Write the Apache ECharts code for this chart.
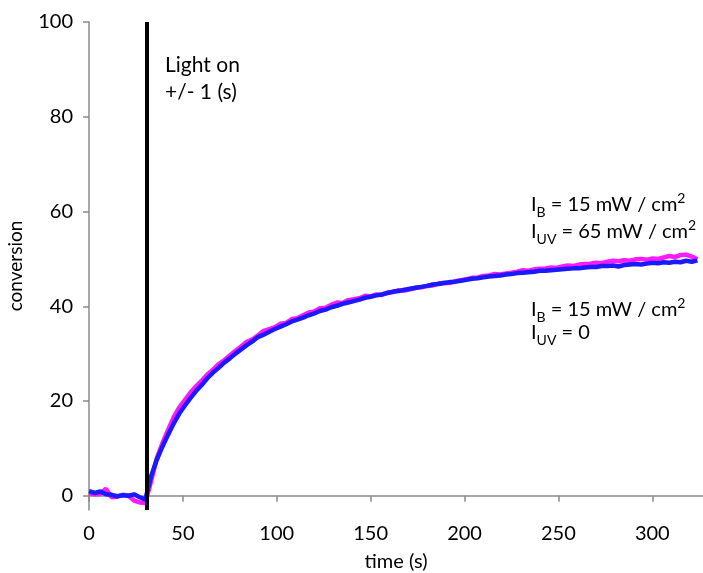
<!DOCTYPE html>
<html>
<head>
<meta charset="utf-8">
<script src="https://cdn.jsdelivr.net/npm/echarts@6/dist/echarts.min.js"></script>
<style>html,body{margin:0;padding:0;background:#fff}#c{width:703px;height:573px}</style>
</head>
<body>
<div id="c"></div>
<script>
var times = [0,3,6,9,12,15,18,21,24,27,30,33,36,39,42,45,48,51,54,57,60,63,66,69,72,75,78,81,84,87,90,93,96,99,102,105,108,111,114,117,120,123,126,129,132,135,138,141,144,147,150,153,156,159,162,165,168,171,174,177,180,183,186,189,192,195,198,201,204,207,210,213,216,219,222,225,228,231,234,237,240,243,246,249,252,255,258,261,264,267,270,273,276,279,282,285,288,291,294,297,300,303,306,309,312,315,318,321,324];
var uvOn = [0.5,0.3,0.4,1.5,-0.3,-0.2,0.2,0.0,-1.0,-1.4,-1.5,3.0,7.8,11.0,13.8,16.5,18.6,20.2,21.8,23.1,24.3,25.6,26.6,27.8,28.6,29.6,30.6,31.5,32.5,33.0,33.9,34.8,35.2,35.6,36.3,36.5,37.3,37.5,38.1,38.7,38.9,39.6,39.7,40.3,40.8,40.7,41.3,41.5,41.7,42.2,42.1,42.5,42.4,42.9,43.0,43.4,43.3,43.6,43.9,44.0,44.3,44.4,44.8,44.9,44.9,45.3,45.5,45.7,46.0,46.1,46.4,46.5,46.8,46.7,46.9,47.1,47.3,47.6,47.5,47.8,47.9,48.0,48.2,48.1,48.4,48.6,48.5,48.8,48.9,49.0,49.2,49.1,49.4,49.6,49.5,49.7,49.6,49.9,50.0,49.8,50.1,50.0,50.3,50.6,50.4,50.8,50.9,50.5,49.9];
var uvOff = [1.0,0.6,0.9,0.3,0.2,-0.1,0.1,0.0,0.3,-0.3,-0.8,4.0,7.5,10.3,12.8,15.2,17.3,19.0,20.6,22.1,23.4,24.8,26.0,27.0,28.1,29.0,30.0,30.9,31.8,32.6,33.5,34.0,34.6,35.2,35.7,36.2,36.8,37.2,37.6,38.1,38.5,39.0,39.3,39.8,40.1,40.5,40.8,41.1,41.4,41.8,42.0,42.3,42.5,42.8,43.1,43.2,43.5,43.7,43.9,44.1,44.3,44.6,44.7,44.9,45.1,45.2,45.4,45.6,45.8,45.9,46.1,46.3,46.4,46.5,46.7,46.8,47.0,47.1,47.2,47.3,47.5,47.5,47.6,47.7,47.8,47.9,48.0,48.0,48.2,48.3,48.3,48.5,48.5,48.6,48.4,48.7,48.8,48.9,48.8,49.0,49.2,49.1,49.3,49.2,49.4,49.3,49.6,49.4,49.7];
var yTicks = [0,20,40,60,80,100];
var lightOnTime = 30.5;

function pairs(xs, ys){ return xs.map(function(x,i){ return [x, ys[i]]; }); }

var FONT = 'Lato';
var chart = echarts.init(document.getElementById('c'));
var richStyle = {
  m:{fontSize:20,fontFamily:FONT,fill:'#000',lineHeight:28,verticalAlign:'middle'},
  s:{fontSize:14,fontFamily:FONT,fill:'#000',lineHeight:28,verticalAlign:'bottom'},
  p:{fontSize:14,fontFamily:FONT,fill:'#000',lineHeight:28,verticalAlign:'top'}
};
chart.setOption({
  animation:false,
  grid:{left:89,right:0,top:22,bottom:63,containLabel:false,outerBoundsMode:'none'},
  xAxis:{
    type:'value',min:0,max:327,interval:50,
    name:'time (s)',nameLocation:'middle',nameGap:42,
    nameTextStyle:{fontSize:20,fontFamily:FONT,color:'#000'},
    axisLine:{lineStyle:{color:'#8a8a8a',width:1.5}},
    axisTick:{show:true,length:6,lineStyle:{color:'#8a8a8a',width:1.5}},
    axisLabel:{fontSize:20,fontFamily:FONT,color:'#000',margin:14,showMaxLabel:false},
    splitLine:{show:false}
  },
  yAxis:{
    type:'value',min:-3,max:100,
    name:'conversion',nameLocation:'middle',nameGap:64,
    nameTextStyle:{fontSize:19,fontFamily:FONT,color:'#000'},
    axisLine:{show:true,lineStyle:{color:'#8a8a8a',width:1.5}},
    axisTick:{show:true,length:6,customValues:yTicks,lineStyle:{color:'#8a8a8a',width:1.5}},
    axisLabel:{fontSize:20,fontFamily:FONT,color:'#000',margin:16,customValues:yTicks},
    splitLine:{show:false}
  },
  series:[
    {type:'line',data:pairs(times,uvOn),symbol:'none',lineStyle:{color:'#ff19ff',width:4.5},z:2,
     markLine:{silent:true,symbol:'none',label:{show:false},lineStyle:{color:'#000',width:4,type:'solid'},data:[{xAxis:lightOnTime}]}},
    {type:'line',data:pairs(times,uvOff),symbol:'none',lineStyle:{color:'#1a1aff',width:4.5},z:3}
  ],
  graphic:[
    {type:'text',left:165,top:55,style:{text:'Light on',fontSize:21,fontFamily:FONT,fill:'#000'}},
    {type:'text',left:165,top:82,style:{text:'+/- 1 (s)',fontSize:21,fontFamily:FONT,fill:'#000'}},
    {type:'text',left:531,top:191,style:{text:'{m|I}{s|B}{m| = 15 mW / cm}{p|2}',rich:richStyle}},
    {type:'text',left:531,top:218,style:{text:'{m|I}{s|UV}{m| = 65 mW / cm}{p|2}',rich:richStyle}},
    {type:'text',left:531,top:296,style:{text:'{m|I}{s|B}{m| = 15 mW / cm}{p|2}',rich:richStyle}},
    {type:'text',left:531,top:323,style:{text:'{m|I}{s|UV}{m| = 0}',rich:richStyle}}
  ]
});
</script>
</body>
</html>
